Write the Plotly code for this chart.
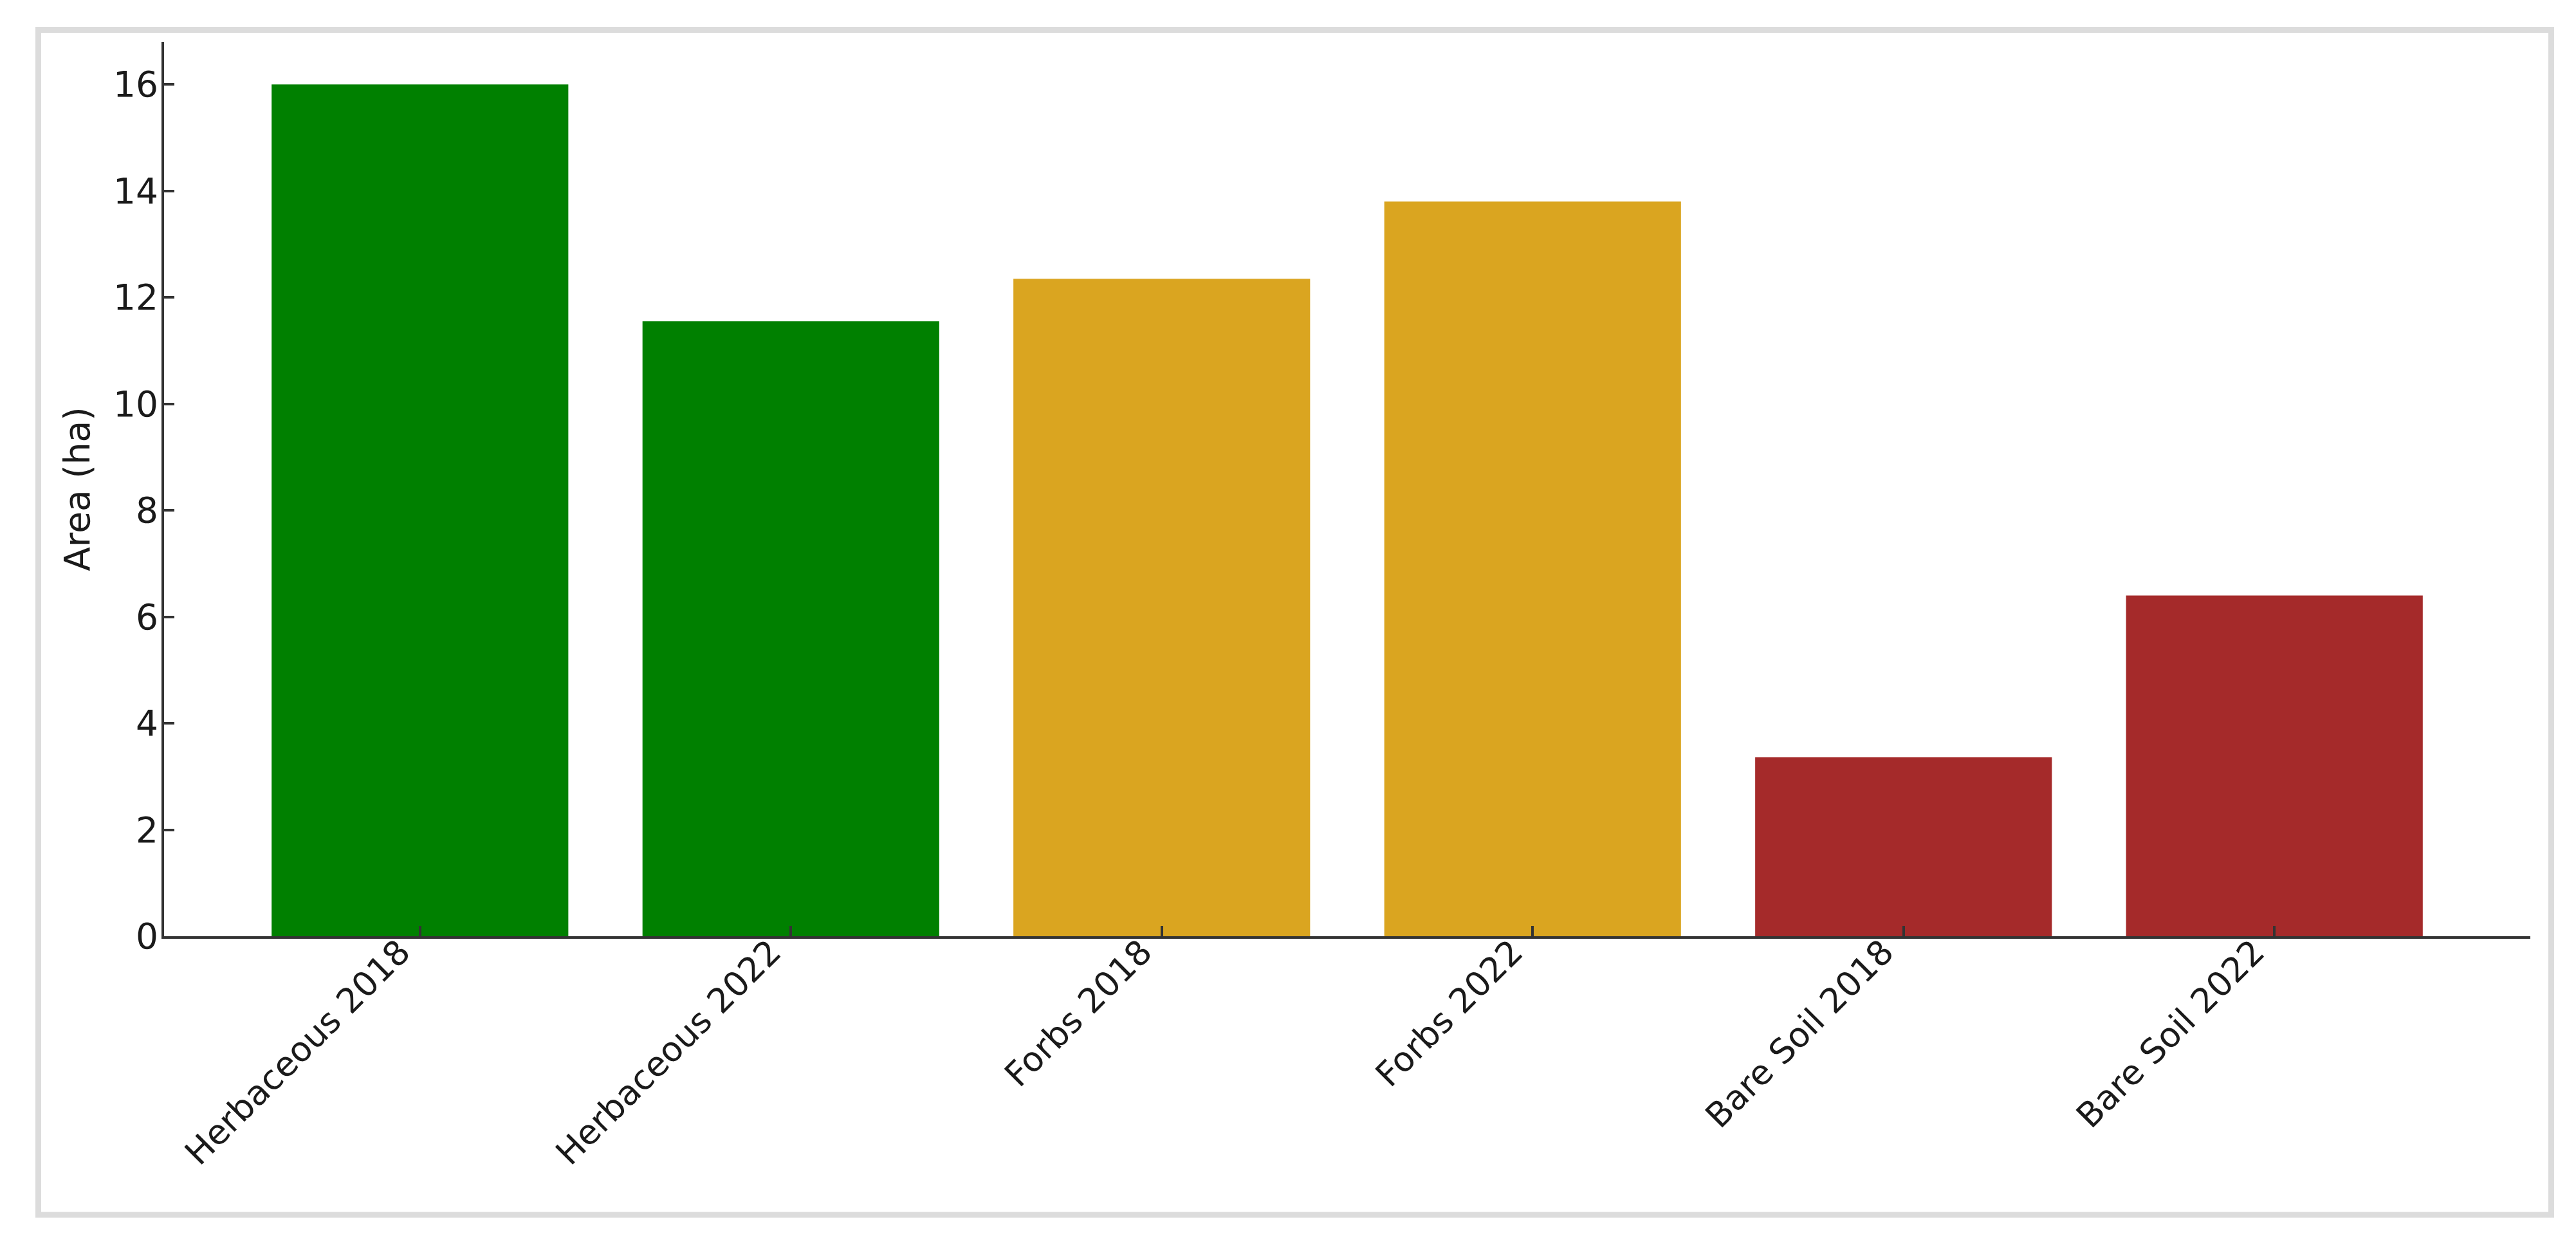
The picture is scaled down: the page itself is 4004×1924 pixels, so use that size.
import plotly.graph_objects as go

# ---- data ----
categories = ["Herbaceous 2018", "Herbaceous 2022", "Forbs 2018",
              "Forbs 2022", "Bare Soil 2018", "Bare Soil 2022"]
area_ha = [16.0, 11.55, 12.35, 13.80, 3.36, 6.40]
bar_colors = ["green", "green", "goldenrod", "goldenrod", "brown", "brown"]
y_tick_values = [0, 2, 4, 6, 8, 10, 12, 14, 16]
y_title = "Area (ha)"

# ---- layout geometry (pixels) ----
W, H = 4004, 1924
L, R, T, B = 247, 79, 57, 477
PW = W - L - R
PH = H - T - B

def px_to_paper_x(px):
    return (px - L) / PW

def px_to_paper_y(py):
    return (H - B - py) / PH

FONT = "DejaVu Sans"
TXT = "#1a1a1a"
AXC = "#333333"

fig = go.Figure()
fig.add_trace(go.Bar(
    x=categories,
    y=area_ha,
    marker=dict(color=bar_colors, line=dict(width=0)),
    showlegend=False,
))

fig.update_layout(
    width=W, height=H,
    margin=dict(l=L, r=R, t=T, b=B, pad=0),
    paper_bgcolor="white",
    plot_bgcolor="white",
    bargap=0.2,
    font=dict(family=FONT, size=55, color=TXT),
    xaxis=dict(
        type="category",
        range=[-0.69, 5.69],
        showline=True, linecolor=AXC, linewidth=4,
        showgrid=False, zeroline=False,
        ticks="inside", ticklen=16, tickwidth=4, tickcolor=AXC,
        tickangle=-45,
        ticklabelshift=-31,
        ticklabelstandoff=-32,
        tickfont=dict(family=FONT, size=53, color=TXT),
    ),
    yaxis=dict(
        range=[0, 16.8],
        tickvals=y_tick_values,
        showline=True, linecolor=AXC, linewidth=4,
        showgrid=False, zeroline=False,
        ticks="inside", ticklen=16, tickwidth=4, tickcolor=AXC,
        ticklabelstandoff=-6,
        tickfont=dict(family=FONT, size=55, color=TXT),
        title=dict(text=y_title, font=dict(family=FONT, size=55, color=TXT), standoff=20),
    ),
    shapes=[dict(
        type="rect", xref="paper", yref="paper",
        x0=px_to_paper_x(51.5), x1=px_to_paper_x(3957.5),
        y0=px_to_paper_y(1880), y1=px_to_paper_y(38.5),
        line=dict(color="#dcdcdc", width=9),
        fillcolor="rgba(0,0,0,0)",
        layer="below",
    )],
)

fig.write_html("out.html")
